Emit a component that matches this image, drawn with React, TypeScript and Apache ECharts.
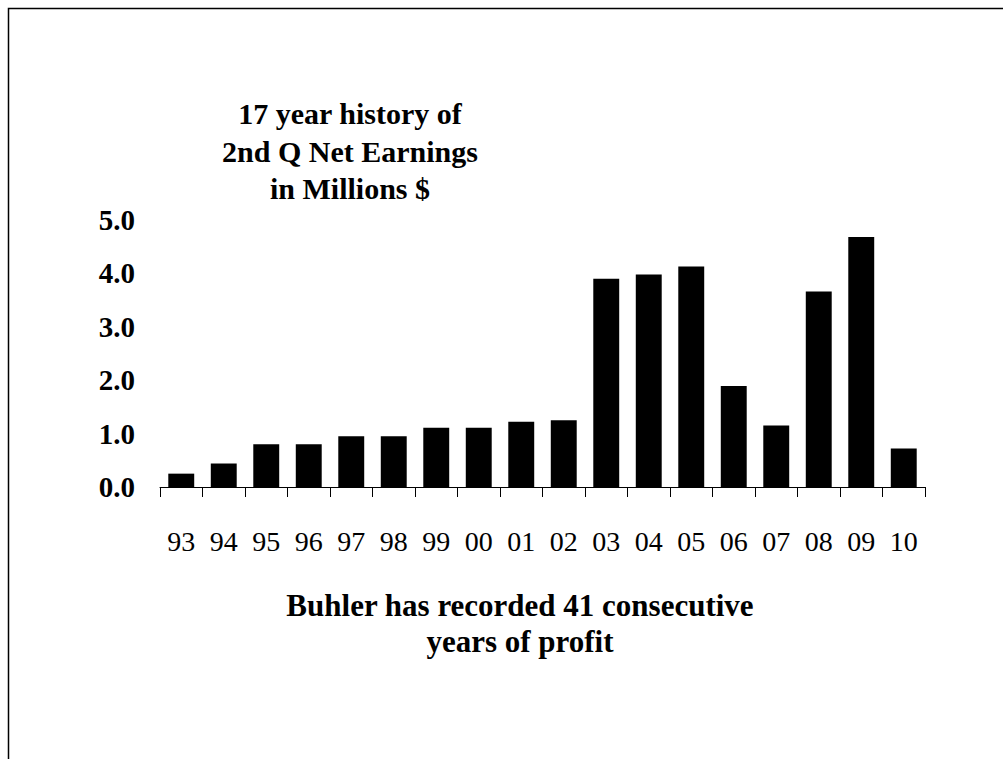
import React, { useEffect, useRef } from "react";
import * as echarts from "echarts";

const years = ["93", "94", "95", "96", "97", "98", "99", "00", "01", "02", "03", "04", "05", "06", "07", "08", "09", "10"];
const earnings = [0.25, 0.44, 0.8, 0.8, 0.95, 0.95, 1.11, 1.11, 1.22, 1.25, 3.9, 3.98, 4.13, 1.89, 1.15, 3.66, 4.68, 0.72];
const titleLines = ["17 year history of", "2nd Q Net Earnings", "in Millions $"];
const footerLines = ["Buhler has recorded 41 consecutive", "years of profit"];

const FONT = "'Liberation Serif', 'Times New Roman', serif";

export default function App() {
  const ref = useRef<HTMLDivElement>(null);
  useEffect(() => {
    if (!ref.current) return;
    const chart = echarts.init(ref.current, null, { renderer: "svg" });
    const titleY = [113, 151, 188];
    const footY = [605, 641];
    chart.setOption({
      animation: false,
      backgroundColor: "#fff",
      grid: { left: 160, right: 78, top: 220, bottom: 272, containLabel: false },
      xAxis: {
        type: "category",
        data: years,
        axisLine: { lineStyle: { color: "#000", width: 1 } },
        axisTick: { show: true, length: 10, alignWithLabel: false, lineStyle: { color: "#000" } },
        axisLabel: { color: "#000", fontFamily: FONT, fontSize: 28, margin: 40, interval: 0 },
        splitLine: { show: false },
      },
      yAxis: {
        type: "value",
        min: 0,
        max: 5,
        interval: 1,
        axisLine: { show: false },
        axisTick: { show: false },
        splitLine: { show: false },
        axisLabel: {
          color: "#000",
          fontFamily: FONT,
          fontSize: 29,
          fontWeight: "bold",
          margin: 25,
          formatter: (v: number) => v.toFixed(1),
        },
      },
      series: [
        {
          type: "bar",
          data: earnings,
          barWidth: "61%",
          itemStyle: { color: "#000" },
        },
      ],
      graphic: [
        {
          type: "rect",
          shape: { x: 8.5, y: 8.5, width: 1200, height: 1000 },
          style: { fill: "none", stroke: "#000", lineWidth: 1.5 },
          silent: true,
        },
        ...titleLines.map((t, i) => ({
          type: "text",
          x: 350,
          y: titleY[i],
          style: {
            text: t,
            fill: "#000",
            font: `bold 30px ${FONT}`,
            textAlign: "center",
            textVerticalAlign: "middle",
          },
        })),
        ...footerLines.map((t, i) => ({
          type: "text",
          x: 520,
          y: footY[i],
          style: {
            text: t,
            fill: "#000",
            font: `bold 31px ${FONT}`,
            textAlign: "center",
            textVerticalAlign: "middle",
          },
        })),
      ],
    });
    return () => chart.dispose();
  }, []);
  return (
    <div
      ref={ref}
      style={{ position: "fixed", left: 0, top: 0, width: 1003, height: 759, background: "#fff" }}
    />
  );
}
